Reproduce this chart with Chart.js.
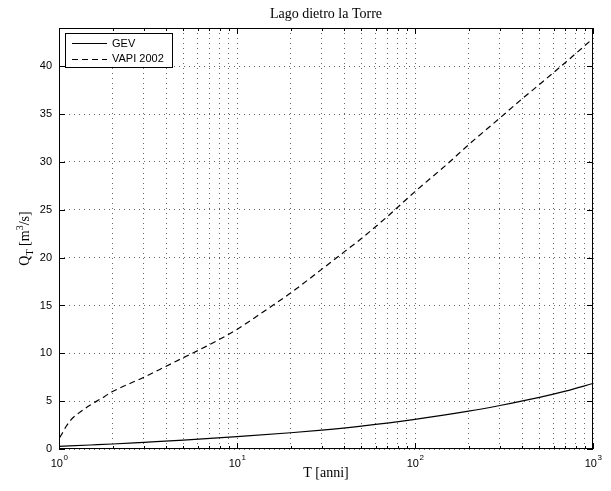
<!DOCTYPE html>
<html>
<head>
<meta charset="utf-8">
<script src="https://cdn.jsdelivr.net/npm/chart.js@4.4.1/dist/chart.umd.min.js"></script>
<style>
html,body{margin:0;padding:0;background:#fff;}
#wrap{width:611px;height:491px;}
</style>
</head>
<body>
<div id="wrap"><canvas id="c" width="611" height="491"></canvas></div>
<script>
// ---- data ----
const titleText = 'Lago dietro la Torre';
const seriesNames = ['GEV', 'VAPI 2002'];
const gevT = [1, 1.5, 2, 3, 5, 10, 20, 30, 50, 100, 200, 300, 500, 700, 1000];
const gevQ = [0.28, 0.42, 0.52, 0.7, 0.93, 1.3, 1.7, 1.98, 2.4, 3.1, 3.95, 4.55, 5.4, 6.05, 6.85];
const vapiT = [1.01, 1.04, 1.1, 1.16, 1.3, 1.5, 1.7, 2, 3, 4, 5, 7, 10, 15, 20, 30, 40, 50, 70, 100, 150, 200, 300, 400, 500, 700, 1000];
const vapiQ = [1.2, 1.6, 2.4, 3.0, 3.8, 4.6, 5.2, 6.0, 7.5, 8.65, 9.55, 10.9, 12.5, 14.7, 16.3, 18.8, 20.6, 22.0, 24.3, 26.9, 29.7, 31.8, 34.6, 36.6, 38.1, 40.4, 42.9];
const yTicks = [0, 5, 10, 15, 20, 25, 30, 35, 40];
const xDecades = [1, 10, 100];
const xMultipliers = [1, 2, 3, 4, 5, 6, 7, 8, 9];
const xExponents = [0, 1, 2, 3];
const xMin = 1, xMax = 1000, yMin = 0, yMax = 44;

const xTickValues = [];
xDecades.forEach(d => xMultipliers.forEach(m => xTickValues.push(d * m)));
xTickValues.push(xMax);

const SANS = '"Liberation Sans", Arial, Helvetica, sans-serif';
const SERIF = '"Liberation Serif", "Times New Roman", serif';

const toXY = (xs, ys) => xs.map((x, i) => ({x: x, y: ys[i]}));

const matlabPlugin = {
  id: 'matlab',
  afterDraw(chart) {
    const ctx = chart.ctx;
    const a = chart.chartArea;
    const xs = chart.scales.x, ys = chart.scales.y;
    ctx.save();
    // box
    ctx.strokeStyle = '#000';
    ctx.lineWidth = 1;
    ctx.setLineDash([]);
    ctx.strokeRect(Math.round(a.left) + 0.5, Math.round(a.top) + 0.5,
                   Math.round(a.right - a.left) - 1, Math.round(a.bottom - a.top) - 1);
    // x ticks inward (top and bottom)
    ctx.beginPath();
    xTickValues.forEach(v => {
      const px = Math.round(xs.getPixelForValue(v)) + 0.5;
      const major = xExponents.some(e => Math.pow(10, e) === v);
      const len = major ? 6 : 3;
      ctx.moveTo(px, a.bottom); ctx.lineTo(px, a.bottom - len);
      ctx.moveTo(px, a.top); ctx.lineTo(px, a.top + len);
    });
    // y ticks inward (left and right)
    yTicks.forEach(v => {
      const py = Math.round(ys.getPixelForValue(v)) + 0.5;
      ctx.moveTo(a.left, py); ctx.lineTo(a.left + 6, py);
      ctx.moveTo(a.right, py); ctx.lineTo(a.right - 6, py);
    });
    ctx.stroke();

    // x tick labels 10^n
    ctx.fillStyle = '#000';
    xExponents.forEach(e => {
      const px = xs.getPixelForValue(Math.pow(10, e));
      ctx.font = '11px ' + SANS;
      const wb = ctx.measureText('10').width;
      ctx.font = '8px ' + SANS;
      const we = ctx.measureText(String(e)).width;
      const x0 = px - (wb + we) / 2;
      ctx.textAlign = 'left';
      ctx.textBaseline = 'alphabetic';
      ctx.font = '11px ' + SANS;
      ctx.fillText('10', x0, a.bottom + 18);
      ctx.font = '8px ' + SANS;
      ctx.fillText(String(e), x0 + wb + 0.5, a.bottom + 11);
    });

    // title
    ctx.font = '14px ' + SERIF;
    ctx.textAlign = 'center';
    ctx.fillText(titleText, (a.left + a.right) / 2, 18);
    // x label
    ctx.fillText('T [anni]', (a.left + a.right) / 2, a.bottom + 28);

    // y label: Q_T [m^3/s]
    ctx.save();
    ctx.translate(29, (a.top + a.bottom) / 2);
    ctx.rotate(-Math.PI / 2);
    const parts = [
      {t: 'Q', f: '14px ' + SERIF, dy: 0},
      {t: 'T', f: '10px ' + SERIF, dy: 4},
      {t: ' [m', f: '14px ' + SERIF, dy: 0},
      {t: '3', f: '10px ' + SERIF, dy: -6},
      {t: '/s]', f: '14px ' + SERIF, dy: 0}
    ];
    let tw = 0;
    parts.forEach(p => { ctx.font = p.f; p.w = ctx.measureText(p.t).width; tw += p.w; });
    let cx = -tw / 2;
    ctx.textAlign = 'left';
    parts.forEach(p => { ctx.font = p.f; ctx.fillText(p.t, cx, p.dy); cx += p.w; });
    ctx.restore();

    // legend
    const lx = a.left + 6, ly = a.top + 5, lw = 107, lh = 34;
    ctx.fillStyle = '#fff';
    ctx.fillRect(lx, ly, lw, lh);
    ctx.strokeStyle = '#000';
    ctx.lineWidth = 1;
    ctx.strokeRect(lx + 0.5, ly + 0.5, lw, lh);
    const entries = [
      {name: seriesNames[0], dash: []},
      {name: seriesNames[1], dash: [6, 4]}
    ];
    ctx.font = '11px ' + SANS;
    ctx.textAlign = 'left';
    ctx.textBaseline = 'middle';
    entries.forEach((en, i) => {
      const yy = ly + 10 + i * 15.5;
      ctx.setLineDash(en.dash);
      ctx.beginPath();
      ctx.moveTo(lx + 7, Math.round(yy) + 0.5);
      ctx.lineTo(lx + 42, Math.round(yy) + 0.5);
      ctx.stroke();
      ctx.setLineDash([]);
      ctx.fillStyle = '#000';
      ctx.fillText(en.name, lx + 47, yy + 0.5);
    });
    ctx.restore();
  }
};

new Chart(document.getElementById('c'), {
  type: 'line',
  data: {
    datasets: [
      {
        label: seriesNames[0],
        data: toXY(gevT, gevQ),
        borderColor: '#000',
        borderWidth: 1.2,
        pointRadius: 0,
        fill: false,
        cubicInterpolationMode: 'monotone'
      },
      {
        label: seriesNames[1],
        data: toXY(vapiT, vapiQ),
        borderColor: '#000',
        borderWidth: 1.2,
        borderDash: [6, 4],
        pointRadius: 0,
        fill: false,
        cubicInterpolationMode: 'monotone'
      }
    ]
  },
  options: {
    responsive: false,
    animation: false,
    devicePixelRatio: 1,
    layout: {padding: {left: 0, top: 28, right: 18, bottom: 0}},
    plugins: {legend: {display: false}, title: {display: false}, tooltip: {enabled: false}},
    scales: {
      x: {
        type: 'logarithmic',
        min: xMin, max: xMax,
        afterBuildTicks: s => { s.ticks = xTickValues.map(v => ({value: v})); },
        afterFit: s => { s.height = 42; },
        ticks: {display: false},
        border: {display: false, dash: [1, 4]},
        grid: {
          drawTicks: false,
          color: 'rgba(0,0,0,0.6)',
          lineWidth: 1
        }
      },
      y: {
        type: 'linear',
        min: yMin, max: yMax,
        afterBuildTicks: s => { s.ticks = yTicks.map(v => ({value: v})); },
        afterFit: s => { s.width = 59; },
        ticks: {
          color: '#000',
          font: {family: SANS, size: 11},
          padding: 7
        },
        border: {display: false, dash: [1, 4]},
        grid: {
          drawTicks: false,
          color: 'rgba(0,0,0,0.6)',
          lineWidth: 1
        }
      }
    }
  },
  plugins: [matlabPlugin]
});
</script>
</body>
</html>
